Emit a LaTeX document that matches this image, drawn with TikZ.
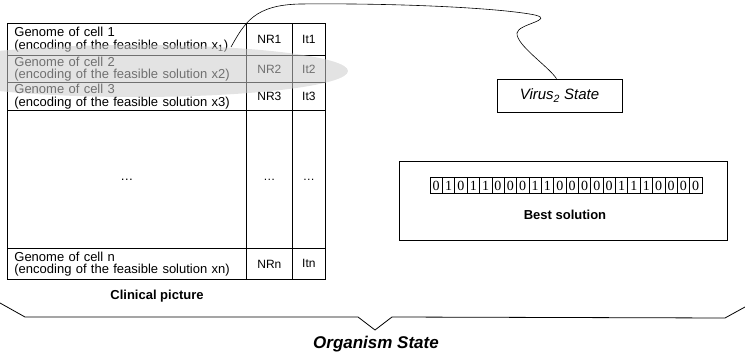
\documentclass[tikz,border=0pt]{standalone}
\usepackage{fontspec}
\setmainfont{Liberation Sans}
\newfontfamily\bitfont{Liberation Serif}
\usetikzlibrary{positioning,calc}

\begin{document}
\begin{tikzpicture}[x=1pt,y=-1pt,line width=0.8pt,
      gcell/.style={draw,anchor=north west,minimum width=239pt,text width=225pt,align=left,
        inner xsep=7pt,inner ysep=0pt,font=\fontsize{13}{12.5}\selectfont},
      ncell/.style={draw,anchor=north west,minimum width=46pt,inner sep=0pt,font=\fontsize{12}{14}\selectfont},
      icell/.style={ncell,minimum width=33pt},
      bitbox/.style={draw,line width=0.6pt,minimum width=12.36pt,minimum height=16pt,inner sep=0pt,
        font=\bitfont\fontsize{14}{15}\selectfont},
      lbl/.style={font=\bfseries\fontsize{13}{15}\selectfont}]
    \useasboundingbox (0,0) rectangle (745,355);
    % clinical picture table
    \foreach \r/\t/\h/\s in {1/23/32/{x\textsubscript{1}},2/55/27/x2,3/82/28/x3} {
      \node[gcell,minimum height=\h pt] (g\r) at (7,\t) {Genome of cell \r\\(encoding of the feasible solution \s)};
      \node[ncell,minimum height=\h pt] (nr\r) at (246,\t) {NR\r};
      \node[icell,minimum height=\h pt] (it\r) at (292,\t) {It\r};
    }
    \node[gcell,minimum height=138pt,align=center] (g4) at (7,110) {\dots};
    \node[ncell,minimum height=138pt] (nr4) at (246,110) {\dots};
    \node[icell,minimum height=138pt] (it4) at (292,110) {\dots};
    \node[gcell,minimum height=31pt] (gn) at (7,248) {Genome of cell n\\(encoding of the feasible solution xn)};
    \node[ncell,minimum height=31pt] (nrn) at (246,248) {NRn};
    \node[icell,minimum height=31pt] (itn) at (292,248) {Itn};
    \fill[gray!40,opacity=0.55] (135,71) ellipse [x radius=213, y radius=26];
    \node[lbl] (clin) at (157,296) {Clinical picture};
    % virus and best solution
    \node[draw,minimum width=125pt,minimum height=33pt,font=\itshape\fontsize{15}{17}\selectfont] (virus) at (559.5,95.5)
      {Virus\textsubscript{2} State};
    \node[draw,line width=1pt,minimum width=328pt,minimum height=79pt] (best) at (563,201.5) {};
    \foreach \b [count=\i] in {0,1,0,1,1,0,0,0,1,1,0,0,0,0,0,1,1,1,0,0,0,0}
      \node[bitbox] (bit\i) at ({430+12.36*(\i-0.5)},185.5) {\b};
    \node[lbl] (bestlbl) at (565,215) {Best solution};
    \coordinate (x1tip) at (231,47);
    \draw[line width=0.6pt] (x1tip) .. controls (245,22) and (255,5) .. (300,4)
      .. controls (400,3) and (500,8) .. (535,15) .. controls (555,20) and (518,24) .. (517,33)
      .. controls (516,45) and (548,66) .. ([xshift=-3pt]virus.north);
    % organism brace
    \draw (0,303) -- (25,317) -- (358,317) -- (375,330) -- (392,317) -- (725,318) -- (745,307);
    \node[font=\bfseries\itshape\fontsize{17}{19}\selectfont] (org) at (376,344) {Organism State};
  \end{tikzpicture}
\end{document}
